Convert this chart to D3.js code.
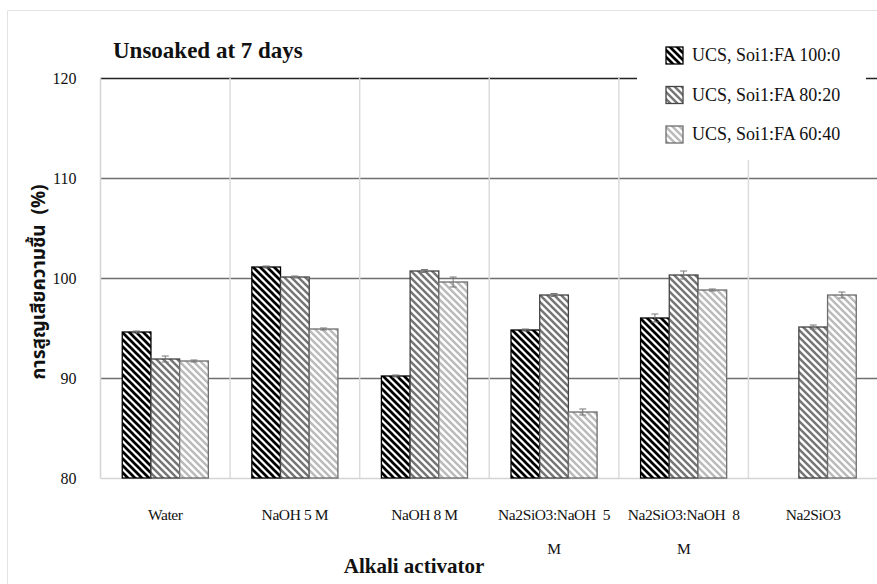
<!DOCTYPE html>
<html>
<head>
<meta charset="utf-8">
<script src="https://cdn.jsdelivr.net/npm/d3@7"></script>
<style>
  html, body { margin: 0; padding: 0; background: #fff; }
  svg { display: block; }
  text { font-family: "Liberation Serif", "Times New Roman", serif; fill: #111; }
</style>
</head>
<body>
<svg id="chart" width="877" height="584"></svg>
<script>
// Categories (x axis), wrapped label lines per category
const categories = ["Water", "NaOH 5 M", "NaOH 8 M", "Na2SiO3:NaOH  5 M", "Na2SiO3:NaOH  8 M", "Na2SiO3"];
const categoryLines = [["Water"], ["NaOH 5 M"], ["NaOH 8 M"], ["Na2SiO3:NaOH  5", "M"], ["Na2SiO3:NaOH  8", "M"], ["Na2SiO3"]];

// Series names
const seriesNames = ["UCS, Soi1:FA 100:0", "UCS, Soi1:FA 80:20", "UCS, Soi1:FA 60:40"];

// Moisture loss (%) per category, one array per soil:fly-ash ratio
const ratio100_0 = [94.6, 101.1, 90.2, 94.8, 96.0, null];
const ratio80_20 = [91.9, 100.1, 100.7, 98.3, 100.3, 95.1];
const ratio60_40 = [91.7, 94.9, 99.6, 86.6, 98.8, 98.3];

// Error bar half-widths
const err100_0 = [0.1, 0.1, 0.1, 0.1, 0.4, null];
const err80_20 = [0.3, 0.1, 0.15, 0.15, 0.4, 0.2];
const err60_40 = [0.1, 0.1, 0.5, 0.3, 0.1, 0.3];

// Y axis ticks
const yTicks = [80, 90, 100, 110, 120];

const seriesValues = [ratio100_0, ratio80_20, ratio60_40];
const seriesErrors = [err100_0, err80_20, err60_40];

const svg = d3.select("#chart");
const W = 877, H = 584;
const plot = { left: 100.5, right: 878, top: 78, bottom: 478 };

// Outer frame
svg.append("path")
  .attr("d", `M7.5,${H} L7.5,10.5 L${W},10.5`)
  .attr("fill", "none").attr("stroke", "#e3e3e3").attr("stroke-width", 1);

// Hatch patterns (downward diagonal)
const defs = svg.append("defs");
const hatch = [
  { id: "h0", color: "#000000", border: "#000000", width: 2.7 },
  { id: "h1", color: "#767676", border: "#444444", width: 2.5 },
  { id: "h2", color: "#bbbbbb", border: "#6e6e6e", width: 2.5 }
];
const P = 7;
hatch.forEach(h => {
  const p = defs.append("pattern")
    .attr("id", h.id).attr("patternUnits", "userSpaceOnUse")
    .attr("width", P).attr("height", P);
  p.append("rect").attr("width", P).attr("height", P).attr("fill", "#fff");
  p.append("path")
    .attr("d", `M${-P / 2},${-P / 2} L${P * 1.5},${P * 1.5} M${-P / 2},${P / 2} L${P / 2},${P * 1.5} M${P / 2},${-P / 2} L${P * 1.5},${P / 2}`)
    .attr("stroke", h.color).attr("stroke-width", h.width).attr("fill", "none");
});

// Scales
const x0 = d3.scaleBand().domain(categories).range([plot.left, plot.right]).paddingInner(0).paddingOuter(0);
const x1 = d3.scaleBand().domain(d3.range(seriesNames.length)).range([0, x0.bandwidth()]).paddingInner(0).paddingOuter(0.758);
const y = d3.scaleLinear().domain([80, 120]).range([plot.bottom, plot.top]);

// Horizontal gridlines
svg.append("g").selectAll("line").data(yTicks.filter(t => t > 80)).join("line")
  .attr("x1", plot.left).attr("x2", plot.right)
  .attr("y1", d => Math.round(y(d)) + 0.5).attr("y2", d => Math.round(y(d)) + 0.5)
  .attr("stroke", d => d === 120 ? "#222" : "#6f6f6f").attr("stroke-width", 1.3);

// Category separators
svg.append("g").selectAll("line").data(categories.slice(1)).join("line")
  .attr("x1", d => x0(d)).attr("x2", d => x0(d))
  .attr("y1", plot.top).attr("y2", plot.bottom)
  .attr("stroke", "#dcdcdc").attr("stroke-width", 1.5);

// Left axis and baseline
svg.append("line").attr("x1", plot.left).attr("x2", plot.left).attr("y1", plot.top).attr("y2", plot.bottom)
  .attr("stroke", "#d4d4d4").attr("stroke-width", 1.5);
svg.append("line").attr("x1", plot.left).attr("x2", plot.right).attr("y1", plot.bottom + 0.5).attr("y2", plot.bottom + 0.5)
  .attr("stroke", "#d4d4d4").attr("stroke-width", 1.5);

// Y tick labels via d3 axis
const yAxis = d3.axisLeft(y).tickValues(yTicks).tickSize(0).tickPadding(24).tickFormat(d3.format("d"));
const gy = svg.append("g").attr("transform", `translate(${plot.left},0)`).call(yAxis);
gy.select(".domain").remove();
gy.selectAll("text").style("font-family", "Liberation Serif, serif").style("font-size", "16px").attr("fill", "#111");

// Bars
const bars = [];
seriesValues.forEach((vals, s) => {
  vals.forEach((v, c) => {
    if (v !== null) bars.push({ s, c, v, e: seriesErrors[s][c] });
  });
});

svg.append("g").selectAll("rect").data(bars).join("rect")
  .attr("x", d => x0(categories[d.c]) + x1(d.s))
  .attr("y", d => y(d.v))
  .attr("width", x1.bandwidth())
  .attr("height", d => y(80) - y(d.v))
  .attr("fill", d => `url(#${hatch[d.s].id})`)
  .attr("stroke", d => hatch[d.s].border)
  .attr("stroke-width", 1.3);

// Error bars
const eg = svg.append("g").attr("stroke", "#777").attr("stroke-width", 1);
bars.forEach(d => {
  const cx = x0(categories[d.c]) + x1(d.s) + x1.bandwidth() / 2;
  const yt = y(d.v + d.e), yb = y(d.v - d.e);
  eg.append("line").attr("x1", cx).attr("x2", cx).attr("y1", yt).attr("y2", yb);
  eg.append("line").attr("x1", cx - 3.5).attr("x2", cx + 3.5).attr("y1", yt).attr("y2", yt);
  eg.append("line").attr("x1", cx - 3.5).attr("x2", cx + 3.5).attr("y1", yb).attr("y2", yb);
});

// Category labels
const xl = svg.append("g");
categories.forEach((c, i) => {
  const cx = x0(c) + x0.bandwidth() / 2;
  categoryLines[i].forEach((line, j) => {
    xl.append("text")
      .attr("x", cx).attr("y", 520 + j * 34)
      .attr("text-anchor", "middle")
      .style("font-size", "15.5px")
      .style("letter-spacing", "-0.4px")
      .style("white-space", "pre")
      .text(line);
  });
});

// Axis titles
svg.append("text").attr("x", 414).attr("y", 573).attr("text-anchor", "middle")
  .style("font-size", "21px").style("font-weight", "bold").text("Alkali activator");

svg.append("text")
  .attr("transform", "translate(45,282) rotate(-90)")
  .attr("text-anchor", "middle")
  .style("font-family", "'Noto Sans Thai', 'Loma', 'Garuda', 'Noto Sans', 'DejaVu Sans', sans-serif")
  .style("font-size", "19px").style("font-weight", "bold")
  .style("white-space", "pre")
  .text("การสูญเสียความชื้น  (%)");

// Chart title
svg.append("text").attr("x", 113).attr("y", 58)
  .style("font-size", "23px").style("font-weight", "bold").text("Unsoaked at 7 days");

// Legend
const lg = svg.append("g");
lg.append("rect").attr("x", 637).attr("y", 30).attr("width", 229).attr("height", 130).attr("fill", "#fff");
seriesNames.forEach((name, i) => {
  const yy = 47 + i * 39.5;
  lg.append("rect").attr("x", 666).attr("y", yy).attr("width", 17).attr("height", 17)
    .attr("fill", `url(#${hatch[i].id})`).attr("stroke", hatch[i].border).attr("stroke-width", 1.3);
  lg.append("text").attr("x", 692).attr("y", yy + 14)
    .style("font-size", "18px").text(name);
});
</script>
</body>
</html>
